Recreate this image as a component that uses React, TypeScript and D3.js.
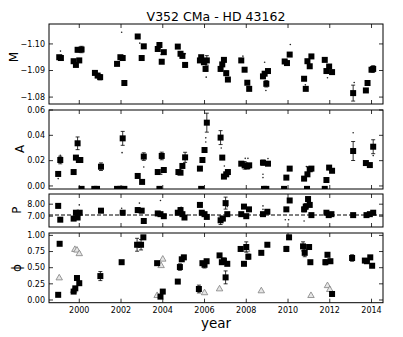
import React, { useRef, useEffect } from "react";
import * as d3 from "d3";

// ---- data ----
const title = "V352 CMa - HD 43162";
const yearTicks = [2000, 2002, 2004, 2006, 2008, 2010, 2012, 2014];

// M panel
const mYear = [1999.04, 1999.12, 1999.73, 1999.84, 1999.92, 2000.0, 2000.11, 2000.75, 2000.88, 2001.0, 2001.81, 2001.97, 2002.08, 2002.16, 2002.8, 2002.99, 2003.09, 2003.76, 2003.84, 2003.95, 2004.05, 2004.72, 2004.85, 2004.94, 2005.07, 2005.78, 2005.84, 2005.97, 2006.11, 2006.05, 2006.77, 2006.85, 2006.93, 2007.04, 2007.12, 2007.76, 2007.92, 2008.05, 2008.14, 2008.8, 2008.88, 2008.96, 2009.04, 2009.84, 2009.95, 2010.08, 2010.77, 2010.85, 2010.93, 2011.04, 2011.12, 2011.76, 2011.84, 2011.97, 2012.11, 2013.12, 2013.73, 2013.81, 2014.0, 2014.08];
const mVal = [-1.095, -1.0947, -1.0935, -1.0921, -1.0978, -1.0938, -1.0979, -1.0891, -1.0881, -1.0875, -1.0925, -1.095, -1.0947, -1.0853, -1.1028, -1.0947, -1.0991, -1.0981, -1.0996, -1.0933, -1.0969, -1.099, -1.0963, -1.0955, -1.0921, -1.0938, -1.095, -1.0931, -1.0938, -1.0906, -1.0906, -1.0923, -1.094, -1.089, -1.0866, -1.0938, -1.0903, -1.0854, -1.0831, -1.0878, -1.0888, -1.085, -1.0898, -1.0934, -1.0928, -1.096, -1.0869, -1.0831, -1.0935, -1.0916, -1.0953, -1.094, -1.0898, -1.0915, -1.0894, -1.0815, -1.0825, -1.0853, -1.0903, -1.0906];
const mErr = [0.0004, 0, 0, 0, 0.0008, 0.0006, 0.0012, 0, 0.0008, 0.001, 0, 0.0006, 0, 0.0008, 0.0004, 0.0006, 0.0006, 0.0004, 0, 0.0006, 0, 0, 0, 0, 0.0008, 0.0006, 0, 0, 0.0018, 0.0008, 0.0008, 0, 0.0006, 0.0008, 0, 0, 0, 0.0006, 0, 0.0006, 0, 0.0012, 0, 0, 0, 0, 0, 0, 0, 0.0006, 0, 0, 0, 0, 0, 0.003, 0, 0, 0.0008, 0.0012];
const mDotYear = [1999.1, 2002.03, 2002.9, 2003.92, 2005.08, 2006.08, 2007.84, 2008.88, 2008.94, 2010.11, 2010.83, 2011.89, 2013.17];
const mDotVal = [-1.0973, -1.1044, -1.1003, -1.096, -1.0963, -1.0875, -1.0954, -1.0931, -1.0825, -1.0998, -1.0846, -1.0873, -1.0855];

// A panel (values of about zero sit on the lower frame)
const aYear = [1998.99, 1999.09, 1999.73, 1999.84, 1999.92, 1999.98, 2000.05, 2000.11, 2000.72, 2000.85, 2001.04, 2001.81, 2001.97, 2002.16, 2002.08, 2002.8, 2003.01, 2003.09, 2003.76, 2003.84, 2003.95, 2004.05, 2004.75, 2004.85, 2004.94, 2005.07, 2005.78, 2005.84, 2005.9, 2006.0, 2006.11, 2006.77, 2006.85, 2006.93, 2007.04, 2007.12, 2007.76, 2007.92, 2008.05, 2008.14, 2008.8, 2008.85, 2008.96, 2009.04, 2009.81, 2009.92, 2010.08, 2010.77, 2010.91, 2010.93, 2011.04, 2011.12, 2011.76, 2011.84, 2011.97, 2012.11, 2013.12, 2013.73, 2013.92, 2014.08];
const aVal = [0.0095, 0.0205, 0.011, 0.0224, 0.0337, 0.0205, 0.0205, -0.0023, -0.0023, -0.0023, 0.0152, -0.0023, -0.0023, -0.0023, 0.0376, 0.0079, 0.0032, 0.0232, 0.011, -0.0023, 0.0237, 0.0126, 0.011, 0.0105, 0.0158, 0.0226, 0.0137, -0.0023, 0.0205, 0.0284, 0.05, 0.0382, 0.0224, 0.0074, 0.0092, 0.011, 0.0176, 0.0163, 0.0155, 0.0163, 0.0184, -0.0023, -0.0023, 0.0176, -0.0023, 0.0066, 0.0137, 0.0058, -0.0023, 0.0092, 0.0132, 0.0137, -0.0023, 0.0047, 0.0145, 0.012, 0.0276, 0.0181, 0.0165, 0.031];
const aErr = [0, 0.003, 0, 0, 0.005, 0, 0, 0, 0, 0, 0.003, 0, 0, 0, 0.0055, 0, 0, 0.003, 0, 0, 0.003, 0, 0, 0, 0, 0.004, 0, 0, 0, 0, 0.0075, 0.0055, 0, 0, 0, 0, 0, 0.003, 0.002, 0, 0.002, 0, 0, 0, 0, 0, 0, 0, 0, 0, 0, 0, 0, 0, 0, 0, 0.0075, 0, 0, 0.0055];
const aDotYear = [1999.09, 1998.99, 2002.05, 2003.09, 2003.95, 2006.06, 2006.06, 2006.8, 2006.95, 2007.95, 2008.08, 2008.8, 2008.8, 2009.04, 2010.88, 2013.12, 2014.08];
const aDotVal = [0.0242, 0.0058, 0.0263, 0.015, 0.0092, 0.0347, 0.038, 0.03, 0.0158, 0.0218, 0.0218, 0.0092, 0.0066, 0.0216, 0.0153, 0.042, 0.024];

// P panel
const pYear = [1998.99, 1999.09, 1999.73, 1999.84, 1999.92, 2000.02, 2001.04, 2002.08, 2002.8, 2002.99, 2003.09, 2003.76, 2003.89, 2004.05, 2004.72, 2004.85, 2004.94, 2005.04, 2005.78, 2005.87, 2006.0, 2006.11, 2006.77, 2006.88, 2007.01, 2007.09, 2007.76, 2007.89, 2008.0, 2008.13, 2008.8, 2009.01, 2009.92, 2010.08, 2010.77, 2010.85, 2010.96, 2011.04, 2011.12, 2011.84, 2011.95, 2012.08, 2013.12, 2013.76, 2013.92, 2014.08];
const pVal = [7.86, 6.71, 6.8, 7.29, 6.89, 7.29, 7.46, 7.29, 7.51, 7.46, 6.6, 7.23, 7.17, 7.0, 7.29, 7.51, 7.17, 6.89, 7.94, 7.29, 7.17, 6.94, 6.66, 6.8, 8.09, 7.17, 7.17, 7.8, 7.0, 7.57, 7.17, 7.37, 7.57, 8.31, 7.57, 7.8, 8.43, 7.94, 7.09, 7.29, 7.09, 7.17, 7.09, 7.09, 7.17, 7.29];
const pErr = [0.15, 0, 0, 0, 0, 0, 0, 0, 0.2, 0, 0, 0, 0, 0, 0, 0.2, 0, 0, 0, 0, 0, 0, 0.35, 0, 0.5, 0, 0, 0, 0, 0, 0, 0, 0, 0, 0.2, 0.25, 0, 0, 0, 0, 0, 0, 0, 0, 0, 0];
const pDotYear = [2000.0, 2002.03, 2002.88, 2003.89, 2004.88, 2007.09, 2008.8, 2008.8, 2009.87, 2010.03, 2010.77, 2010.96];
const pDotVal = [7.94, 7.66, 8.09, 8.31, 7.74, 7.8, 7.86, 7.57, 6.71, 6.71, 6.6, 8.31];
const pMean = 7.1;

// phi panel: squares and grey triangles
const fYear = [1998.99, 1999.06, 1999.73, 1999.81, 1999.89, 2000.0, 2001.01, 2002.03, 2002.77, 2002.96, 2003.07, 2003.73, 2003.89, 2004.0, 2004.72, 2004.82, 2004.91, 2005.01, 2005.73, 2005.9, 2006.0, 2006.1, 2006.72, 2006.83, 2006.93, 2007.01, 2007.09, 2007.73, 2007.89, 2008.0, 2008.1, 2008.72, 2009.01, 2009.92, 2010.05, 2010.72, 2010.8, 2011.01, 2011.07, 2011.79, 2011.89, 2012.03, 2012.11, 2013.07, 2013.68, 2013.78, 2013.94, 2014.03];
const fVal = [0.08, 0.87, 0.13, 0.18, 0.34, 0.26, 0.37, 0.585, 0.855, 0.855, 0.97, 0.57, 0.052, 0.13, 0.285, 0.51, 0.63, 0.66, 0.17, 0.57, 0.545, 0.6, 0.69, 0.585, 0.61, 0.35, 0.56, 0.79, 0.56, 0.82, 0.67, 0.73, 0.855, 0.79, 0.97, 0.83, 0.73, 0.82, 0.585, 0.585, 0.7, 0.6, 0.093, 0.65, 0.61, 0.6, 0.66, 0.53];
const fErr = [0, 0, 0, 0, 0, 0, 0.07, 0, 0.1, 0.08, 0, 0, 0, 0, 0, 0.05, 0, 0.03, 0.06, 0, 0.05, 0, 0, 0, 0.04, 0.1, 0, 0, 0, 0.08, 0.04, 0, 0, 0.04, 0.03, 0.07, 0.06, 0, 0, 0.04, 0, 0, 0, 0.05, 0, 0, 0, 0];
const tYear = [1999.04, 1999.73, 1999.79, 1999.89, 2000.0, 2003.73, 2003.92, 2004.0, 2006.0, 2006.72, 2008.02, 2008.72, 2011.1, 2011.89, 2012.0, 2012.0];
const tVal = [0.34, 0.145, 0.78, 0.77, 0.715, 0.067, 0.53, 0.63, 0.11, 0.17, 0.78, 0.14, 0.067, 0.22, 0.16, 0.6];

const W = 403;
const H = 337;
const left = 49;
const right = 383;

const App = () => {
  const svgRef = useRef(null);

  useEffect(() => {
    const svg = d3.select(svgRef.current);
    svg.selectAll("*").remove();
    const font = "DejaVu Sans, sans-serif";

    const x = d3.scaleLinear().domain([1998.55, 2014.55]).range([left, right]);

    const panels = [
      { id: "m", label: "M", top: 24, bottom: 104, domain: [-1.0774, -1.1075], ticks: [-1.1, -1.09, -1.08], fmt: (v) => d3.format(".2f")(v), lx: 18, ly: 57 },
      { id: "a", label: "A", top: 110, bottom: 189, domain: [-0.0024, 0.06], ticks: [0, 0.02, 0.04, 0.06], fmt: d3.format(".2f"), lx: 24, ly: 149 },
      { id: "p", label: "P", top: 194, bottom: 227, domain: [6.1, 8.85], ticks: [7, 8], fmt: d3.format(".2f"), lx: 21, ly: 210 },
      { id: "f", label: "\u03d5", top: 233, bottom: 302.7, domain: [-0.042, 1.037], ticks: [0, 0.25, 0.5, 0.75, 1], fmt: d3.format(".2f"), lx: 21, ly: 268 },
    ];

    const ys = {};
    panels.forEach((p) => {
      const y = d3.scaleLinear().domain(p.domain).range([p.bottom, p.top]);
      ys[p.id] = y;

      svg.append("clipPath").attr("id", "clip-" + p.id)
        .append("rect").attr("x", left).attr("y", p.top)
        .attr("width", right - left).attr("height", p.bottom - p.top);

      const g = svg.append("g");

      // ticks inside on all four sides
      yearTicks.forEach((t) => {
        g.append("line").attr("x1", x(t)).attr("x2", x(t)).attr("y1", p.top).attr("y2", p.top + 4)
          .attr("stroke", "#000").attr("stroke-width", 0.8);
        g.append("line").attr("x1", x(t)).attr("x2", x(t)).attr("y1", p.bottom).attr("y2", p.bottom - 4)
          .attr("stroke", "#000").attr("stroke-width", 0.8);
      });
      p.ticks.forEach((t) => {
        g.append("line").attr("x1", left).attr("x2", left + 4).attr("y1", y(t)).attr("y2", y(t))
          .attr("stroke", "#000").attr("stroke-width", 0.8);
        g.append("line").attr("x1", right).attr("x2", right - 4).attr("y1", y(t)).attr("y2", y(t))
          .attr("stroke", "#000").attr("stroke-width", 0.8);
        g.append("text").attr("x", left - 4).attr("y", y(t)).attr("dy", "0.35em")
          .attr("text-anchor", "end").attr("font-family", font).attr("font-size", 8)
          .text(p.fmt(t).replace("-", "\u2212"));
      });

      g.append("text")
        .attr("transform", `translate(${p.lx},${p.ly}) rotate(-90)`)
        .attr("text-anchor", "middle").attr("font-family", font).attr("font-size", 12)
        .text(p.label);
    });

    const square = (id, xs, vs, es) => {
      const g = svg.append("g").attr("clip-path", `url(#clip-${id})`);
      const y = ys[id];
      xs.forEach((xv, i) => {
        const e = es[i];
        if (e > 0) {
          const cx = x(xv);
          g.append("line").attr("x1", cx).attr("x2", cx).attr("y1", y(vs[i] - e)).attr("y2", y(vs[i] + e))
            .attr("stroke", "#000").attr("stroke-width", 0.8);
          [vs[i] - e, vs[i] + e].forEach((v) => {
            g.append("line").attr("x1", cx - 2).attr("x2", cx + 2).attr("y1", y(v)).attr("y2", y(v))
              .attr("stroke", "#000").attr("stroke-width", 0.8);
          });
        }
      });
      g.selectAll("rect.sq").data(xs).enter().append("rect")
        .attr("x", (d) => x(d) - 3).attr("y", (d, i) => y(vs[i]) - 3)
        .attr("width", 6).attr("height", 6).attr("fill", "#000");
    };

    const dots = (id, xs, vs) => {
      const y = ys[id];
      svg.append("g").attr("clip-path", `url(#clip-${id})`)
        .selectAll("circle").data(xs).enter().append("circle")
        .attr("cx", (d) => x(d)).attr("cy", (d, i) => y(vs[i])).attr("r", 0.8).attr("fill", "#222");
    };

    dots("m", mDotYear, mDotVal);
    square("m", mYear, mVal, mErr);
    dots("a", aDotYear, aDotVal);
    square("a", aYear, aVal, aErr);

    svg.append("line").attr("x1", left).attr("x2", right)
      .attr("y1", ys.p(pMean)).attr("y2", ys.p(pMean))
      .attr("stroke", "#000").attr("stroke-width", 1).attr("stroke-dasharray", "4,2");
    dots("p", pDotYear, pDotVal);
    square("p", pYear, pVal, pErr);

    const tri = d3.symbol().type(d3.symbolTriangle).size(18);
    svg.append("g").attr("clip-path", "url(#clip-f)")
      .selectAll("path").data(tYear).enter().append("path")
      .attr("d", tri)
      .attr("transform", (d, i) => `translate(${x(d)},${ys.f(tVal[i])})`)
      .attr("fill", "#e6e6e6").attr("stroke", "#808080").attr("stroke-width", 0.8);
    square("f", fYear, fVal, fErr);

    // frames
    panels.forEach((p) => {
      svg.append("rect").attr("x", left).attr("y", p.top)
        .attr("width", right - left).attr("height", p.bottom - p.top)
        .attr("fill", "none").attr("stroke", "#000").attr("stroke-width", 1);
    });

    // x tick labels
    yearTicks.forEach((t) => {
      svg.append("text").attr("x", x(t)).attr("y", 312.5).attr("text-anchor", "middle")
        .attr("font-family", font).attr("font-size", 8).text(t);
    });

    svg.append("text").attr("x", (left + right) / 2).attr("y", 21).attr("text-anchor", "middle")
      .attr("font-family", font).attr("font-size", 12.5).text(title);
    svg.append("text").attr("x", (left + right) / 2).attr("y", 328).attr("text-anchor", "middle")
      .attr("font-family", font).attr("font-size", 13.5).text("year");
  }, []);

  return (
    <div style={{ position: "absolute", left: 0, top: 0 }}>
      <svg ref={svgRef} width={W} height={H} style={{ display: "block", background: "#fff" }}></svg>
    </div>
  );
};

export default App;
